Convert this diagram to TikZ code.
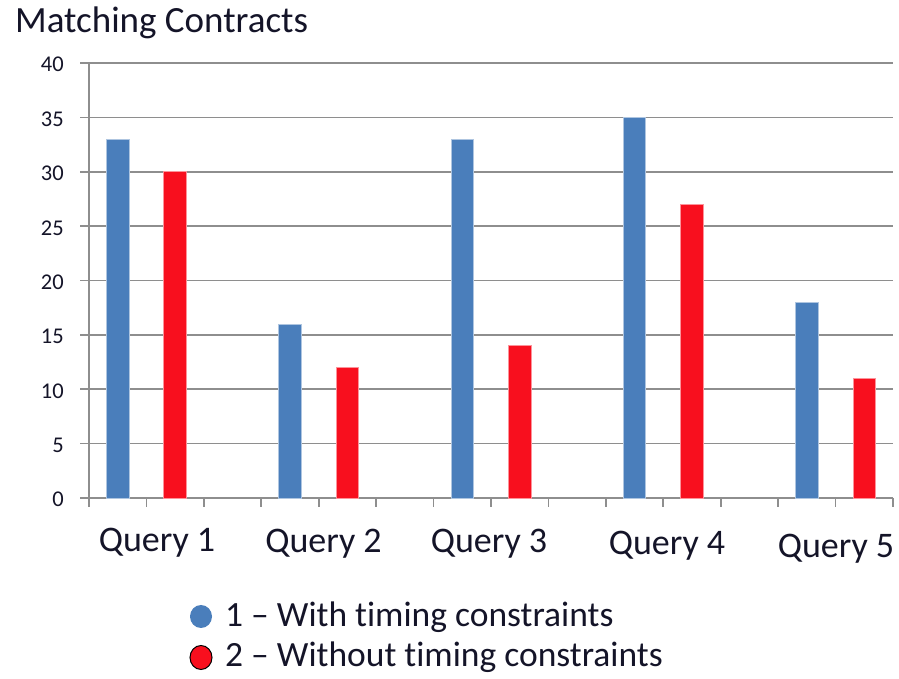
\documentclass[tikz,border=0pt]{standalone}
\usepackage{fontspec}
\setmainfont{Carlito}[Ligatures={NoCommon}]
\definecolor{barblue}{HTML}{4A7EBB}
\definecolor{barred}{HTML}{F80F1E}
\definecolor{gridgray}{HTML}{8E8E8E}
\definecolor{labelink}{HTML}{141428}
\begin{document}
\begin{tikzpicture}[x=1pt,y=1pt,
  gridline/.style={gridgray,line width=1.6pt},
  bluebar/.style={fill=barblue,draw=barblue!45!white,line width=0.9pt},
  redbar/.style={fill=barred,draw=barred!45!white,line width=0.9pt},
  ylab/.style={anchor=base east,inner sep=0pt,text=labelink,font=\fontsize{22.5}{26}\selectfont},
  qlab/.style={anchor=base,inner sep=0pt,text=labelink,font=\fontsize{36}{40}\selectfont},
  legtext/.style={anchor=base west,inner sep=0pt,text=labelink,font=\fontsize{35.5}{40}\selectfont},
  title/.style={anchor=base west,inner sep=0pt,text=labelink,font=\fontsize{37}{42}\selectfont}]
\useasboundingbox (0,0) rectangle (899,679);
% category width and value unit
\def\cw{57.4286}
\def\vu{10.875}
% horizontal grid and value labels
\foreach \v in {0,5,...,40}{
  \draw[gridline] (80,{181+\v*\vu}) -- (893,{181+\v*\vu});
  \node[ylab] (y\v) at (64,{172+\v*\vu}) {\v};
}
% value axis
\draw[gridline] (89,172) -- (89,616);
% category ticks
\foreach \i in {0,...,14}{
  \draw[gridline] ({89+\i*\cw},181) -- ({89+\i*\cw},172);
}
% bars: with / without timing constraints
\foreach \k/\b/\r in {0/33/30,1/16/12,2/33/14,3/35/27,4/18/11}{
  \draw[bluebar] ({89+(3*\k+0.5)*\cw-11.25},181) rectangle ++(22.5,{\b*\vu});
  \draw[redbar] ({89+(3*\k+1.5)*\cw-11.25},181) rectangle ++(22.5,{\r*\vu});
}
% category labels
\node[qlab] (q1) at (157,127) {Query 1};
\node[qlab] (q2) at (323.5,126) {Query 2};
\node[qlab] (q3) at (489,126) {Query 3};
\node[qlab] (q4) at (667,124) {Query 4};
\node[qlab] (q5) at (836,121) {Query 5};
% title
\node[title] (ttl) at (15,646) {Matching Contracts};
% legend
\fill[barblue] (201,62.5) ellipse [x radius=11,y radius=11.5];
\filldraw[fill=barred,draw=black,line width=1pt] (201,21.5) ellipse [x radius=11,y radius=12];
\node[legtext] (l1) at (225,52) {1 – With timing constraints};
\node[legtext] (l2) at (225,12) {2 – Without timing constraints};
\end{tikzpicture}
\end{document}
